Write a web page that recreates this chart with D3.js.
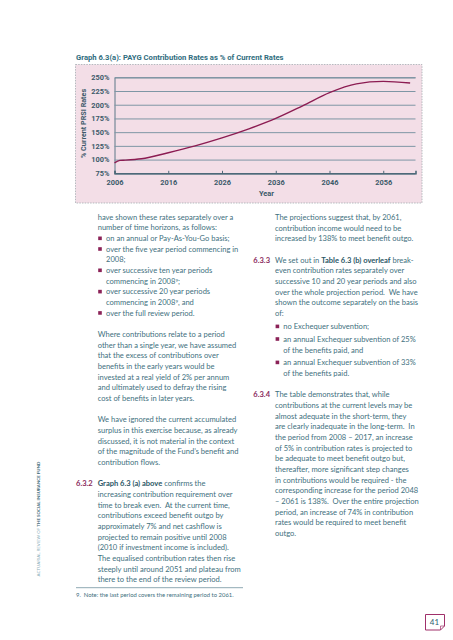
<!DOCTYPE html>
<html><head><meta charset="utf-8">
<script src="https://cdn.jsdelivr.net/npm/d3@7"></script>
<style>html,body{margin:0;padding:0;background:#fff;} svg{display:block;}</style>
</head><body>
<svg id="c" width="453" height="640"></svg>
<script>
// ---- chart data ----
const years = [2006, 2007, 2008, 2011, 2016, 2021, 2026, 2031, 2036, 2041, 2046, 2051, 2056, 2061];
const rates = [94, 98.5, 99, 101.5, 112.5, 125, 139.5, 156, 175, 198, 222, 238, 242.5, 239.5];
const yTicks = [75, 100, 125, 150, 175, 200, 225, 250];
const xTicks = [2006, 2016, 2026, 2036, 2046, 2056];
const chartTitle = "Graph 6.3(a): PAYG Contribution Rates as % of Current Rates";
const yLabel = "% Current PRSI Rates";
const xLabel = "Year";

// ---- page text ----
const leftLines = [
  [0, "p", [["have shown these rates separately over a"]]],
  [1, "p", [["number of time horizons, as follows:"]]],
  [2, "b", [["on an annual or Pay-As-You-Go basis;"]]],
  [3, "b", [["over the five year period commencing in"]]],
  [4, "i", [["2008;"]]],
  [5, "b", [["over successive ten year periods"]]],
  [6, "i", [["commencing in 2008"], ["9", "sup"], [";"]]],
  [7, "b", [["over successive 20 year periods"]]],
  [8, "i", [["commencing in 2008"], ["9", "sup"], [", and"]]],
  [9, "b", [["over the full review period."]]],
  [11, "p", [["Where contributions relate to a period"]]],
  [12, "p", [["other than a single year, we have assumed"]]],
  [13, "p", [["that the excess of contributions over"]]],
  [14, "p", [["benefits in the early years would be"]]],
  [15, "p", [["invested at a real yield of 2% per annum"]]],
  [16, "p", [["and ultimately used to defray the rising"]]],
  [17, "p", [["cost of benefits in later years."]]],
  [19, "p", [["We have ignored the current accumulated"]]],
  [20, "p", [["surplus in this exercise because, as already"]]],
  [21, "p", [["discussed, it is not material in the context"]]],
  [22, "p", [["of the magnitude of the Fund\u2019s benefit and"]]],
  [23, "p", [["contribution flows."]]],
  [25, "p", [["Graph 6.3 (a) above", "b"], [" confirms the"]], "6.3.2"],
  [26, "p", [["increasing contribution requirement over"]]],
  [27, "p", [["time to break even.\u00a0 At the current time,"]]],
  [28, "p", [["contributions exceed benefit outgo by"]]],
  [29, "p", [["approximately 7% and net cashflow is"]]],
  [30, "p", [["projected to remain positive until 2008"]]],
  [31, "p", [["(2010 if investment income is included)."]]],
  [32, "p", [["The equalised contribution rates then rise"]]],
  [33, "p", [["steeply until around 2051 and plateau from"]]],
  [34, "p", [["there to the end of the review period."]]]
];
const rightLines = [
  [217.3, "p", [["The projections suggest that, by 2061,"]]],
  [228.0, "p", [["contribution income would need to be"]]],
  [238.6, "p", [["increased by 138% to meet benefit outgo."]]],
  [260.2, "p", [["We set out in "], ["Table 6.3 (b) overleaf", "b"], [" break-"]], "6.3.3"],
  [270.9, "p", [["even contribution rates separately over"]]],
  [281.6, "p", [["successive 10 and 20 year periods and also"]]],
  [292.2, "p", [["over the whole projection period.\u00a0 We have"]]],
  [302.9, "p", [["shown the outcome separately on the basis"]]],
  [313.5, "p", [["of:"]]],
  [326.7, "b", [["no Exchequer subvention;"]]],
  [339.3, "b", [["an annual Exchequer subvention of 25%"]]],
  [350.0, "i", [["of the benefits paid, and"]]],
  [362.7, "b", [["an annual Exchequer subvention of 33%"]]],
  [373.3, "i", [["of the benefits paid."]]],
  [394.7, "p", [["The table demonstrates that, while"]], "6.3.4"],
  [405.3, "p", [["contributions at the current levels may be"]]],
  [416.0, "p", [["almost adequate in the short-term, they"]]],
  [426.7, "p", [["are clearly inadequate in the long-term.\u00a0 In"]]],
  [437.3, "p", [["the period from 2008 \u2013 2017, an increase"]]],
  [448.0, "p", [["of 5% in contribution rates is projected to"]]],
  [458.7, "p", [["be adequate to meet benefit outgo but,"]]],
  [469.3, "p", [["thereafter, more significant step changes"]]],
  [480.0, "p", [["in contributions would be required - the"]]],
  [490.6, "p", [["corresponding increase for the period 2048"]]],
  [501.3, "p", [["\u2013 2061 is 138%.\u00a0 Over the entire projection"]]],
  [512.0, "p", [["period, an increase of 74% in contribution"]]],
  [522.6, "p", [["rates would be required to meet benefit"]]],
  [533.3, "p", [["outgo."]]]
];
const footnote = "9.\u00a0 Note: the last period covers the remaining period to 2061.";
const sideLight = "ACTUARIAL REVIEW OF ";
const sideBold = "THE SOCIAL INSURANCE FUND";
const pageNo = "41";

// ---- colours / fonts ----
const BODY = "#41707e", BODYB = "#2b5766", MAG = "#8a2a5c";
const BODY_FONT = "Lato, 'Open Sans', sans-serif";
const CH_FONT = "Roboto, 'DejaVu Sans', sans-serif";

const svg = d3.select("#c");

// ---- chart ----
const x = d3.scaleLinear().domain([2006, 2062]).range([114.5, 415.5]);
const y = d3.scaleLinear().domain([75, 250]).range([173.3, 77.3]);

svg.append("rect").attr("x", 75.5).attr("y", 64.5).attr("width", 346.5).attr("height", 138.5)
  .attr("fill", "#f3dee7").attr("stroke", "#a3abb0").attr("stroke-width", 0.8)
  .attr("stroke-dasharray", "1.5,1.2");

svg.append("text").attr("x", 76).attr("y", 60.3).text(chartTitle)
  .attr("font-family", CH_FONT).attr("font-weight", 700).attr("font-size", 7)
  .attr("fill", "#2f6d7e").attr("class", "fitTitle");

const gy = svg.append("g").attr("transform", `translate(${x(2006)},0)`)
  .call(d3.axisLeft(y).tickValues(yTicks).tickFormat(d => d + "%")
    .tickSize(-(x.range()[1] - x.range()[0])).tickPadding(5));
gy.select(".domain").attr("stroke", "#5d7888").attr("stroke-width", 1);
gy.selectAll(".tick line").attr("stroke", "#7e96a5").attr("stroke-width", 1);
gy.selectAll(".tick text").attr("font-family", CH_FONT).attr("font-weight", 700)
  .attr("font-size", 7.4).attr("fill", "#3c5a6a");

const gx = svg.append("g").attr("transform", `translate(0,${y(75)})`)
  .call(d3.axisBottom(x).tickValues(xTicks).tickFormat(d3.format("d")).tickSize(-2.5).tickPadding(5));
gx.select(".domain").attr("stroke", "#4d6979").attr("stroke-width", 1.6);
gx.selectAll(".tick line").attr("stroke", "#4d6979").attr("stroke-width", 1);
gx.selectAll(".tick text").attr("y", 9).attr("dy", "0.35em").attr("font-family", CH_FONT)
  .attr("font-weight", 700).attr("font-size", 7.4).attr("fill", "#3c5a6a");

svg.append("text").attr("transform", "translate(85.8,123.5) rotate(-90)").attr("text-anchor", "middle")
  .text(yLabel).attr("font-family", CH_FONT).attr("font-weight", 700).attr("font-size", 7.2).attr("fill", "#3c5a6a");
svg.append("text").attr("x", 266.5).attr("y", 196).attr("text-anchor", "middle").text(xLabel)
  .attr("font-family", CH_FONT).attr("font-weight", 700).attr("font-size", 7.4).attr("fill", "#3c5a6a");

const line = d3.line().x((d, i) => x(years[i])).y(d => y(d)).curve(d3.curveMonotoneX);
svg.append("path").datum(rates).attr("d", line).attr("fill", "none")
  .attr("stroke", "#8c1c52").attr("stroke-width", 1.4);

// ---- body text ----
const body = svg.append("g").attr("font-family", BODY_FONT).attr("fill", BODY).attr("font-size", 7.6);

function drawLine(yy, kind, segs, num, xp, xb, xi, xnum) {
  const tx = kind === "p" ? xp : xi;
  if (kind === "b") {
    body.append("rect").attr("x", xb).attr("y", yy - 4.6).attr("width", 3.6).attr("height", 3.6).attr("fill", "#8b2257");
  }
  const t = body.append("text").attr("x", tx).attr("y", yy).attr("class", "bl");
  segs.forEach(s => {
    const ts = t.append("tspan").text(s[0]);
    if (s[1] === "b") ts.attr("font-weight", 700).attr("fill", BODYB);
    if (s[1] === "sup") ts.attr("font-size", "0.6em").attr("baseline-shift", "super");
  });
  if (num) {
    body.append("text").attr("x", xnum).attr("y", yy).text(num)
      .attr("font-weight", 700).attr("fill", MAG).attr("class", "bl");
  }
  return t;
}
const LH = 10.66, Y0 = 219.8;
let refLine;
leftLines.forEach((l, i) => {
  const t = drawLine(Y0 + l[0] * LH, l[1], l[2], l[3], 97.7, 98.2, 106, 76);
  if (i === 0) refLine = t;
});
rightLines.forEach(l => drawLine(l[0] + 2.5, l[1], l[2], l[3], 275, 275.6, 283.3, 253.3));

// fit body font so reference line spans its measured width
const w0 = refLine.node().getComputedTextLength();
body.attr("font-size", 7.6 * 135.6 / w0);

// title fit
const tt = svg.select(".fitTitle");
const tw = tt.node().getComputedTextLength();
tt.attr("font-size", 7 * 208 / tw);

// footnote
svg.append("line").attr("x1", 76).attr("x2", 243).attr("y1", 587.7).attr("y2", 587.7)
  .attr("stroke", "#8fa9b3").attr("stroke-width", 1);
const fn = svg.append("text").attr("x", 76).attr("y", 596.5).text(footnote)
  .attr("font-family", BODY_FONT).attr("font-size", 6).attr("fill", BODY);
fn.attr("font-size", 6 * 158 / fn.node().getComputedTextLength());

// side text
const side = svg.append("text").attr("transform", "translate(40,519) rotate(-90)").attr("text-anchor", "middle")
  .attr("font-family", BODY_FONT).attr("font-size", 5.3);
side.append("tspan").text(sideLight).attr("fill", "#8db0bb");
side.append("tspan").text(sideBold).attr("fill", "#3f6c7a").attr("font-weight", 700);
side.attr("font-size", 5.3 * 115 / side.node().getComputedTextLength());

// page number box
svg.append("path").attr("d", "M425.5,614.5 H444.5 V626 L440.5,630 H425.5 Z")
  .attr("fill", "#fff").attr("stroke", "#a0306a").attr("stroke-width", 1);
svg.append("path").attr("d", "M444.5,626 L440.5,626 L440.5,630").attr("fill", "none")
  .attr("stroke", "#a0306a").attr("stroke-width", 0.7);
svg.append("text").attr("x", 434.5).attr("y", 625).attr("text-anchor", "middle").text(pageNo)
  .attr("font-family", BODY_FONT).attr("font-size", 8).attr("fill", "#2d6070");
</script>
</body></html>
